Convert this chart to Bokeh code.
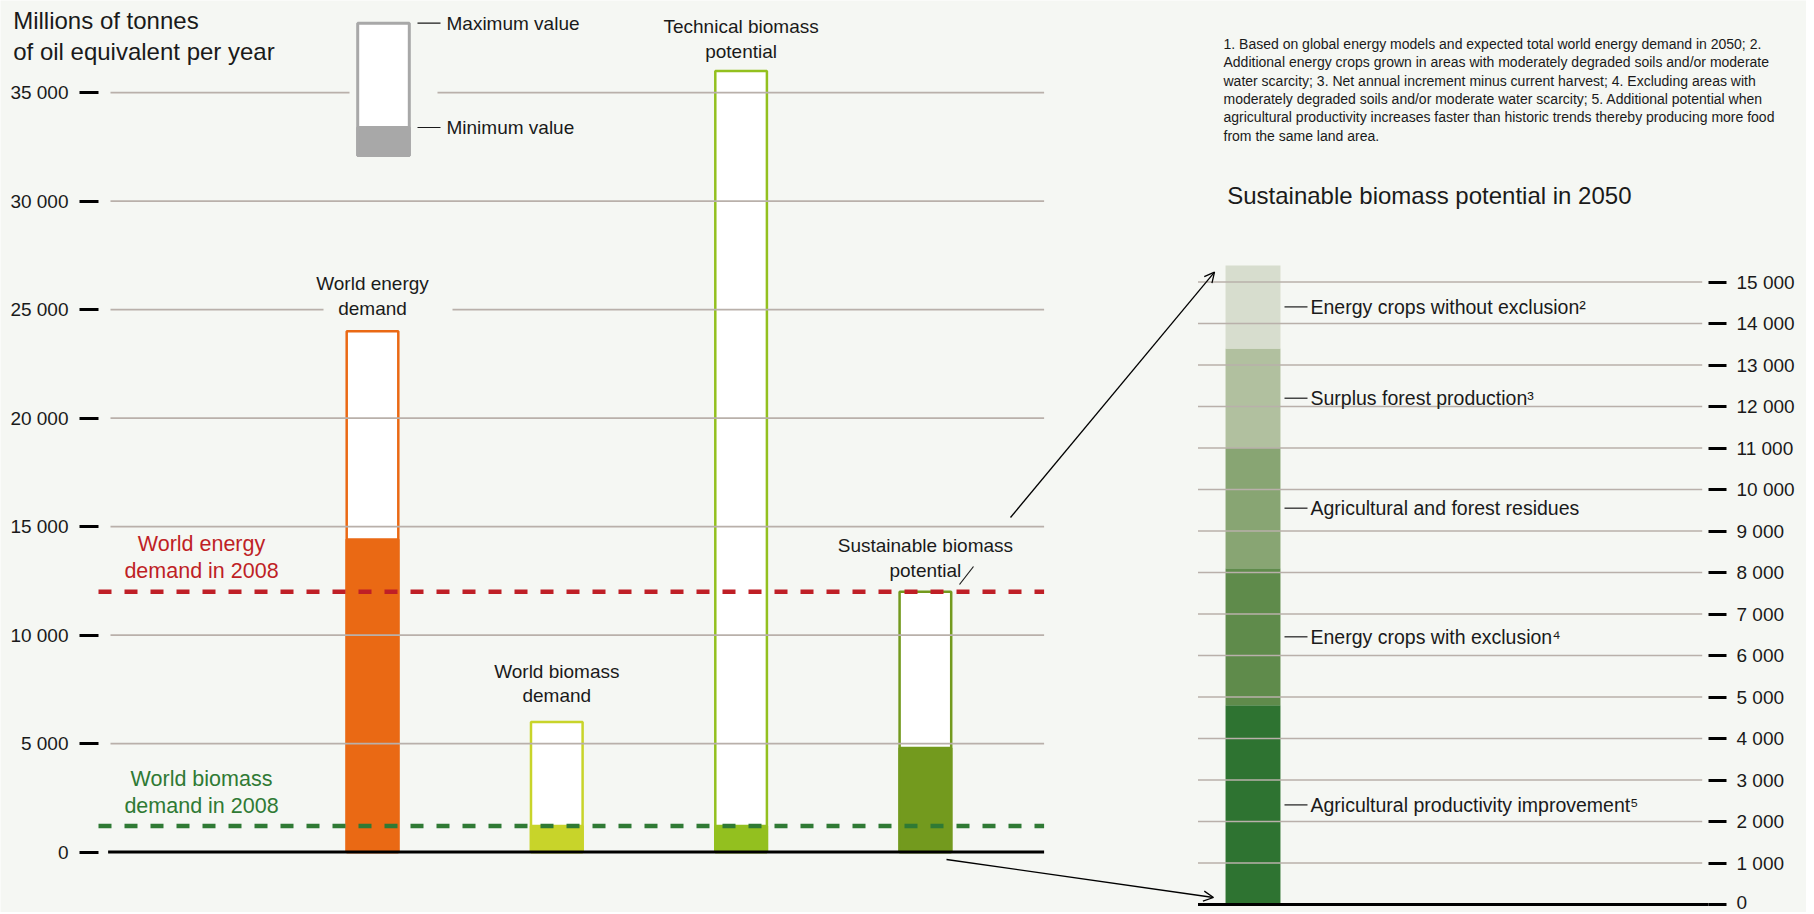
import numpy as np
from bokeh.plotting import figure
from bokeh.models import Range1d, LinearAxis, FixedTicker, Label, Arrow, OpenHead, ColumnDataSource
from bokeh.core.properties import value
from bokeh.embed import file_html
from bokeh.resources import INLINE

# ---------------- data ----------------
bar_labels = [["World energy", "demand"], ["World biomass", "demand"],
              ["Technical biomass", "potential"], ["Sustainable biomass", "potential"]]
bar_min = [14400, 1200, 1200, 4800]
bar_max = [24000, 6000, 36000, 12000]
energy_demand_2008 = 12000
biomass_demand_2008 = 1200

left_ticks = [0, 5000, 10000, 15000, 20000, 25000, 30000, 35000]
left_tick_labels = ["0", "5 000", "10 000", "15 000", "20 000", "25 000", "30 000", "35 000"]

sust_names = ["Agricultural productivity improvement", "Energy crops with exclusion",
              "Agricultural and forest residues", "Surplus forest production",
              "Energy crops without exclusion"]
sust_notes = ["\u2075", "\u2074", "", "\u00b3", "\u00b2"]
sust_values = [4800, 3300, 2900, 2400, 2000]

right_ticks = [0, 1000, 2000, 3000, 4000, 5000, 6000, 7000, 8000, 9000,
               10000, 11000, 12000, 13000, 14000, 15000]
right_tick_labels = ["0", "1 000", "2 000", "3 000", "4 000", "5 000", "6 000", "7 000",
                     "8 000", "9 000", "10 000", "11 000", "12 000", "13 000", "14 000", "15 000"]

notes = [
    "1. Based on global energy models and expected total world energy demand in 2050; 2.",
    "Additional energy crops grown in areas with moderately degraded soils and/or moderate",
    "water scarcity; 3. Net annual increment minus current harvest; 4. Excluding areas with",
    "moderately degraded soils and/or moderate water scarcity; 5. Additional potential when",
    "agricultural productivity increases faster than historic trends thereby producing more food",
    "from the same land area.",
]

# ---------------- styles ----------------
FONT = "Liberation Sans"
BG = "#f5f7f3"
INK = "#1a1a1a"
GRID = "#b9b0aa"
bar_colors = ["#ea6914", "#c8d42a", "#93c01f", "#739a1e"]
sust_colors = ["#2e7331", "#5f8b4b", "#88a573", "#b1c09f", "#d7ddce"]
RED = "#bf1f26"
GREEN = "#2f7a34"
LEG = "#a8a8a8"

W, H = 1806, 912

# page-pixel helpers used to place annotations
def slot(px):
    return (px - 98) / 184.3 - 0.4867

def lval(py):
    return (851.6 - py) / 21.7 * 1000

def rval(py):
    return (904.0 - py) / 41.5 * 1000

BAR_W = 0.28
bar_x = [1, 2, 3, 4]
RIGHT_X = slot(1252.5)

p = figure(width=W, height=H,
           x_range=Range1d(slot(0), slot(W)),
           y_range=Range1d(lval(H), lval(0)),
           output_backend="svg", toolbar_location=None,
           x_axis_location=None, y_axis_location=None,
           min_border=0, min_border_left=0, min_border_right=0, min_border_top=0, min_border_bottom=0,
           background_fill_color=BG, border_fill_color=BG, outline_line_color=None)
p.extra_y_ranges = {"right": Range1d(rval(H), rval(0))}
p.grid.visible = False

# axes (drawn at fixed positions inside the canvas)
ax_l = LinearAxis(ticker=FixedTicker(ticks=left_ticks), fixed_location=slot(98),
                  major_label_overrides={t: s for t, s in zip(left_ticks, left_tick_labels)})
ax_r = LinearAxis(y_range_name="right", ticker=FixedTicker(ticks=right_ticks), fixed_location=slot(1708),
                  major_label_overrides={t: s for t, s in zip(right_ticks, right_tick_labels)})
for ax, out, so in ((ax_l, 19, 11), (ax_r, 18, 10)):
    ax.axis_line_color = None
    ax.major_tick_in = 0
    ax.major_tick_out = out
    ax.major_tick_line_width = 3
    ax.major_tick_line_color = "black"
    ax.minor_tick_line_color = None
    ax.major_label_standoff = so
    ax.major_label_text_font = FONT
    ax.major_label_text_font_size = "19px"
    ax.major_label_text_color = INK
p.add_layout(ax_l, "left")
p.add_layout(ax_r, "right")

# legend box
LEG_BASE, LEG_MIN, LEG_MAX = lval(155), lval(127), lval(22.7)
LEG_X = slot(383)
p.vbar(x=[LEG_X], width=BAR_W, bottom=[LEG_BASE], top=[LEG_MAX], fill_color="white",
       line_color=LEG, line_width=3)
p.vbar(x=[LEG_X], width=BAR_W, bottom=[LEG_BASE], top=[LEG_MIN], fill_color=LEG,
       line_color=LEG, line_width=3)
p.segment(x0=[slot(417)] * 2, x1=[slot(440)] * 2, y0=[LEG_MAX, LEG_MIN], y1=[LEG_MAX, LEG_MIN],
          line_color=INK, line_width=1.2)
p.text(x=[slot(446)] * 2, y=[LEG_MAX, LEG_MIN], text=["Maximum value", "Minimum value"],
       text_font=value(FONT), text_font_size="19px", text_color=INK, text_baseline="middle")

# left bars: outline to max, filled to min
p.vbar(x=bar_x, width=BAR_W, bottom=0, top=bar_max, fill_color="white",
       line_color=bar_colors, line_width=2.5)
p.vbar(x=bar_x, width=BAR_W, bottom=0, top=bar_min, fill_color=bar_colors,
       line_color=bar_colors, line_width=2.5)

# right stacked bar
cum = np.cumsum(sust_values)
bottoms = np.concatenate([[0], cum[:-1]])
mids = (bottoms + cum) / 2
p.vbar(x=[RIGHT_X] * len(sust_values), width=0.298, bottom=bottoms, top=cum,
       fill_color=sust_colors, line_color=None, y_range_name="right")

# left gridlines (with gaps behind legend and a label)
gaps = {35000: (slot(349), slot(437)), 25000: (slot(323), slot(452))}
gx0, gx1, gy = [], [], []
for t in left_ticks[1:]:
    a, b = slot(110), slot(1043.6)
    if t in gaps:
        g0, g1 = gaps[t]
        gx0 += [a, g1]; gx1 += [g0, b]; gy += [t, t]
    else:
        gx0.append(a); gx1.append(b); gy.append(t)
p.segment(x0=gx0, x1=gx1, y0=gy, y1=gy, line_color=GRID, line_width=1.6)
# right gridlines
rt = right_ticks[1:]
p.segment(x0=[slot(1197.5)] * len(rt), x1=[slot(1701.7)] * len(rt), y0=rt, y1=rt,
          line_color=GRID, line_width=1.6, y_range_name="right")

# baselines
p.segment(x0=[slot(107.6)], x1=[slot(1043.6)], y0=[0], y1=[0], line_color="black", line_width=3)
p.segment(x0=[slot(1197.5)], x1=[slot(1708)], y0=[0], y1=[0], line_color="black", line_width=3,
          y_range_name="right")

# 2008 reference lines
p.segment(x0=[slot(98)], x1=[slot(1043.6)], y0=[energy_demand_2008], y1=[energy_demand_2008],
          line_color=RED, line_width=4.5, line_dash="13 13")
p.segment(x0=[slot(98)], x1=[slot(1043.6)], y0=[biomass_demand_2008], y1=[biomass_demand_2008],
          line_color=GREEN, line_width=4.5, line_dash="13 13")

def text_lines(xs, ys, texts, offs, color, size, align="center", baseline="alphabetic",
               rng="default", font=FONT):
    src = ColumnDataSource(dict(x=xs, y=ys, text=texts, yo=offs))
    p.text(x="x", y="y", text="text", y_offset="yo", source=src, text_font=value(font),
           text_font_size=size, text_color=color, text_align=align, text_baseline=baseline,
           y_range_name=rng)

# reference line labels
RX = slot(201)
text_lines([RX, RX], [energy_demand_2008] * 2, ["World energy", "demand in 2008"], [-47.5, -20.5],
           RED, "21.5px")
text_lines([RX, RX], [biomass_demand_2008] * 2, ["World biomass", "demand in 2008"], [-47, -20],
           GREEN, "21.5px")

# bar labels
label_offs = [[-48, -23], [-50, -26], [-44, -19], [-46, -21]]
xs, ys, ts, os_ = [], [], [], []
for i in range(4):
    for j in range(2):
        xs.append(bar_x[i]); ys.append(bar_max[i]); ts.append(bar_labels[i][j]); os_.append(label_offs[i][j])
text_lines(xs, ys, ts, os_, INK, "19px")
# small pointer for sustainable label
p.segment(x0=[slot(959)], x1=[slot(973)], y0=[lval(584)], y1=[lval(566)], line_color=INK, line_width=1.2)

# right segment labels
p.segment(x0=[slot(1284)] * 5, x1=[slot(1307)] * 5, y0=mids, y1=mids, line_color=INK,
          line_width=1.2, y_range_name="right")
text_lines([slot(1310)] * 5, list(mids), [n + s for n, s in zip(sust_names, sust_notes)],
           [0] * 5, INK, "19.5px", align="left", baseline="middle", rng="right")

# arrows linking the sustainable bar to its breakdown
p.add_layout(Arrow(end=OpenHead(size=10, line_width=1.3, line_color="black"),
                   x_start=slot(1010), y_start=lval(517), x_end=slot(1214), y_end=lval(271.7),
                   line_width=1.3, line_color="black"))
p.add_layout(Arrow(end=OpenHead(size=10, line_width=1.3, line_color="black"),
                   x_start=slot(946), y_start=lval(859), x_end=slot(1213), y_end=lval(897),
                   line_width=1.3, line_color="black"))

# titles and notes
p.add_layout(Label(x=slot(12.7), y=lval(20.3), text="Millions of tonnes", text_font=FONT,
                   text_font_size="24px", text_color=INK, text_baseline="alphabetic"))
p.add_layout(Label(x=slot(12.7), y=lval(51.3), text="of oil equivalent per year", text_font=FONT,
                   text_font_size="24px", text_color=INK, text_baseline="alphabetic"))
p.add_layout(Label(x=slot(1226.7), y=lval(194.6), text="Sustainable biomass potential in 2050",
                   text_font=FONT, text_font_size="24px", text_color=INK, text_baseline="alphabetic"))
for k, line in enumerate(notes):
    p.add_layout(Label(x=slot(1223), y=lval(43.3 + 18.4 * k), text=line, text_font=FONT,
                       text_font_size="14px", text_color=INK, text_baseline="middle"))

open("out.html", "w").write(file_html(p, INLINE))
